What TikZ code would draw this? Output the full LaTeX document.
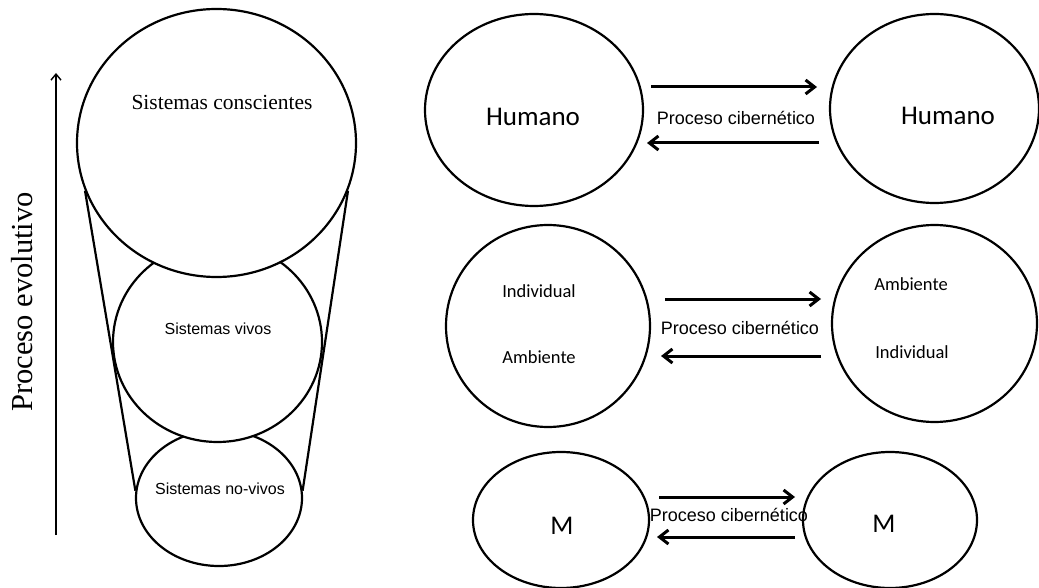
\documentclass[tikz,border=0pt]{standalone}
\usepackage{fontspec}
\setmainfont{Liberation Serif}
\newfontfamily\arialfont{Liberation Sans}
\newfontfamily\calibrifont{Carlito}
\usetikzlibrary{shapes.geometric,positioning,calc,arrows.meta}

\begin{document}
\begin{tikzpicture}[x=1pt, y=-1pt,
  ring/.style={ellipse, draw, line width=2.2pt, fill=white, inner sep=0pt},
  seriflbl/.style={font=\fontsize{21.5}{24}\selectfont},
  arlbl/.style={font=\arialfont\fontsize{16}{19}\selectfont},
  callbl/.style={font=\calibrifont\fontsize{18.5}{22}\selectfont},
  bigcal/.style={font=\calibrifont\fontsize{27}{30}\selectfont},
  cyblbl/.style={font=\arialfont\fontsize{18}{21}\selectfont, inner sep=0pt},
  flow/.style={line width=3pt, -{Straight Barb[length=9pt,width=14pt]}}]
  \useasboundingbox (0,0) rectangle (1039,588);

  % Left: nested systems, small first so the bigger ones cover it
  \node[ring, minimum width=166pt, minimum height=136pt] (novivo) at (219,498) {};
  \node[ring, minimum width=209pt, minimum height=200pt] (vivo) at (217.5,342) {};
  \node[ring, minimum width=279pt, minimum height=268pt] (consc) at (216.5,143) {};
  \node[seriflbl] (conscl) at (222,102) {Sistemas conscientes};
  \node[arlbl] (vivol) at (218,329) {Sistemas vivos};
  \node[arlbl] (novivol) at (220,489) {Sistemas no-vivos};
  \draw[line width=2.2pt] (consc.200) -- (novivo.175);
  \draw[line width=2.2pt] (consc.340) -- (novivo.5);

  % Evolution axis
  \coordinate (evbot) at (56,535);
  \coordinate (evtop) at (56,73);
  \draw[line width=1.4pt, -{Straight Barb[length=6pt,width=10pt]}] (evbot) -- (evtop);
  \node[rotate=90, font=\fontsize{30.5}{33}\selectfont] (evol) at (22,302) {Proceso evolutivo};

  % Row 1: Humano - Humano
  \node[ring, minimum width=218pt, minimum height=192pt] (hum1) at (534,110) {};
  \node[ring, minimum width=209pt, minimum height=189pt] (hum2) at (934.5,108.5) {};
  \node[bigcal] (hum1l) at (533,117) {Humano};
  \node[bigcal] (hum2l) at (948,116) {Humano};
  \node[cyblbl] (pc1) at (736,118) {Proceso cibernético};
  \draw[flow] ($(pc1)+(-85,-31)$) -- ($(pc1)+(81,-31)$);
  \draw[flow] ($(pc1)+(83,25)$) -- ($(pc1)+(-89,25)$);

  % Row 2: Individual / Ambiente
  \node[ring, minimum width=204pt, minimum height=202pt] (ind1) at (548,326) {};
  \node[ring, minimum width=205pt, minimum height=197pt] (ind2) at (934.5,323.5) {};
  \node[callbl] (ind1a) at (539,291) {Individual};
  \node[callbl] (ind1b) at (539,357) {Ambiente};
  \node[callbl] (ind2a) at (911,284) {Ambiente};
  \node[callbl] (ind2b) at (912,352) {Individual};
  \node[cyblbl] (pc2) at (740,328) {Proceso cibernético};
  \draw[flow] ($(pc2)+(-75,-29)$) -- ($(pc2)+(81,-29)$);
  \draw[flow] ($(pc2)+(81,28)$) -- ($(pc2)+(-79,28)$);

  % Row 3: M - M
  \node[ring, minimum width=176pt, minimum height=136pt] (m1) at (561,520) {};
  \node[ring, minimum width=174pt, minimum height=136pt] (m2) at (890,520) {};
  \node[bigcal] (m1l) at (562,526) {M};
  \node[bigcal] (m2l) at (884,524) {M};
  \node[cyblbl] (pc3) at (729,515) {Proceso cibernético};
  \draw[flow] ($(pc3)+(-70,-18)$) -- ($(pc3)+(66,-18)$);
  \draw[flow] ($(pc3)+(66,22)$) -- ($(pc3)+(-72,22)$);
\end{tikzpicture}
\end{document}
